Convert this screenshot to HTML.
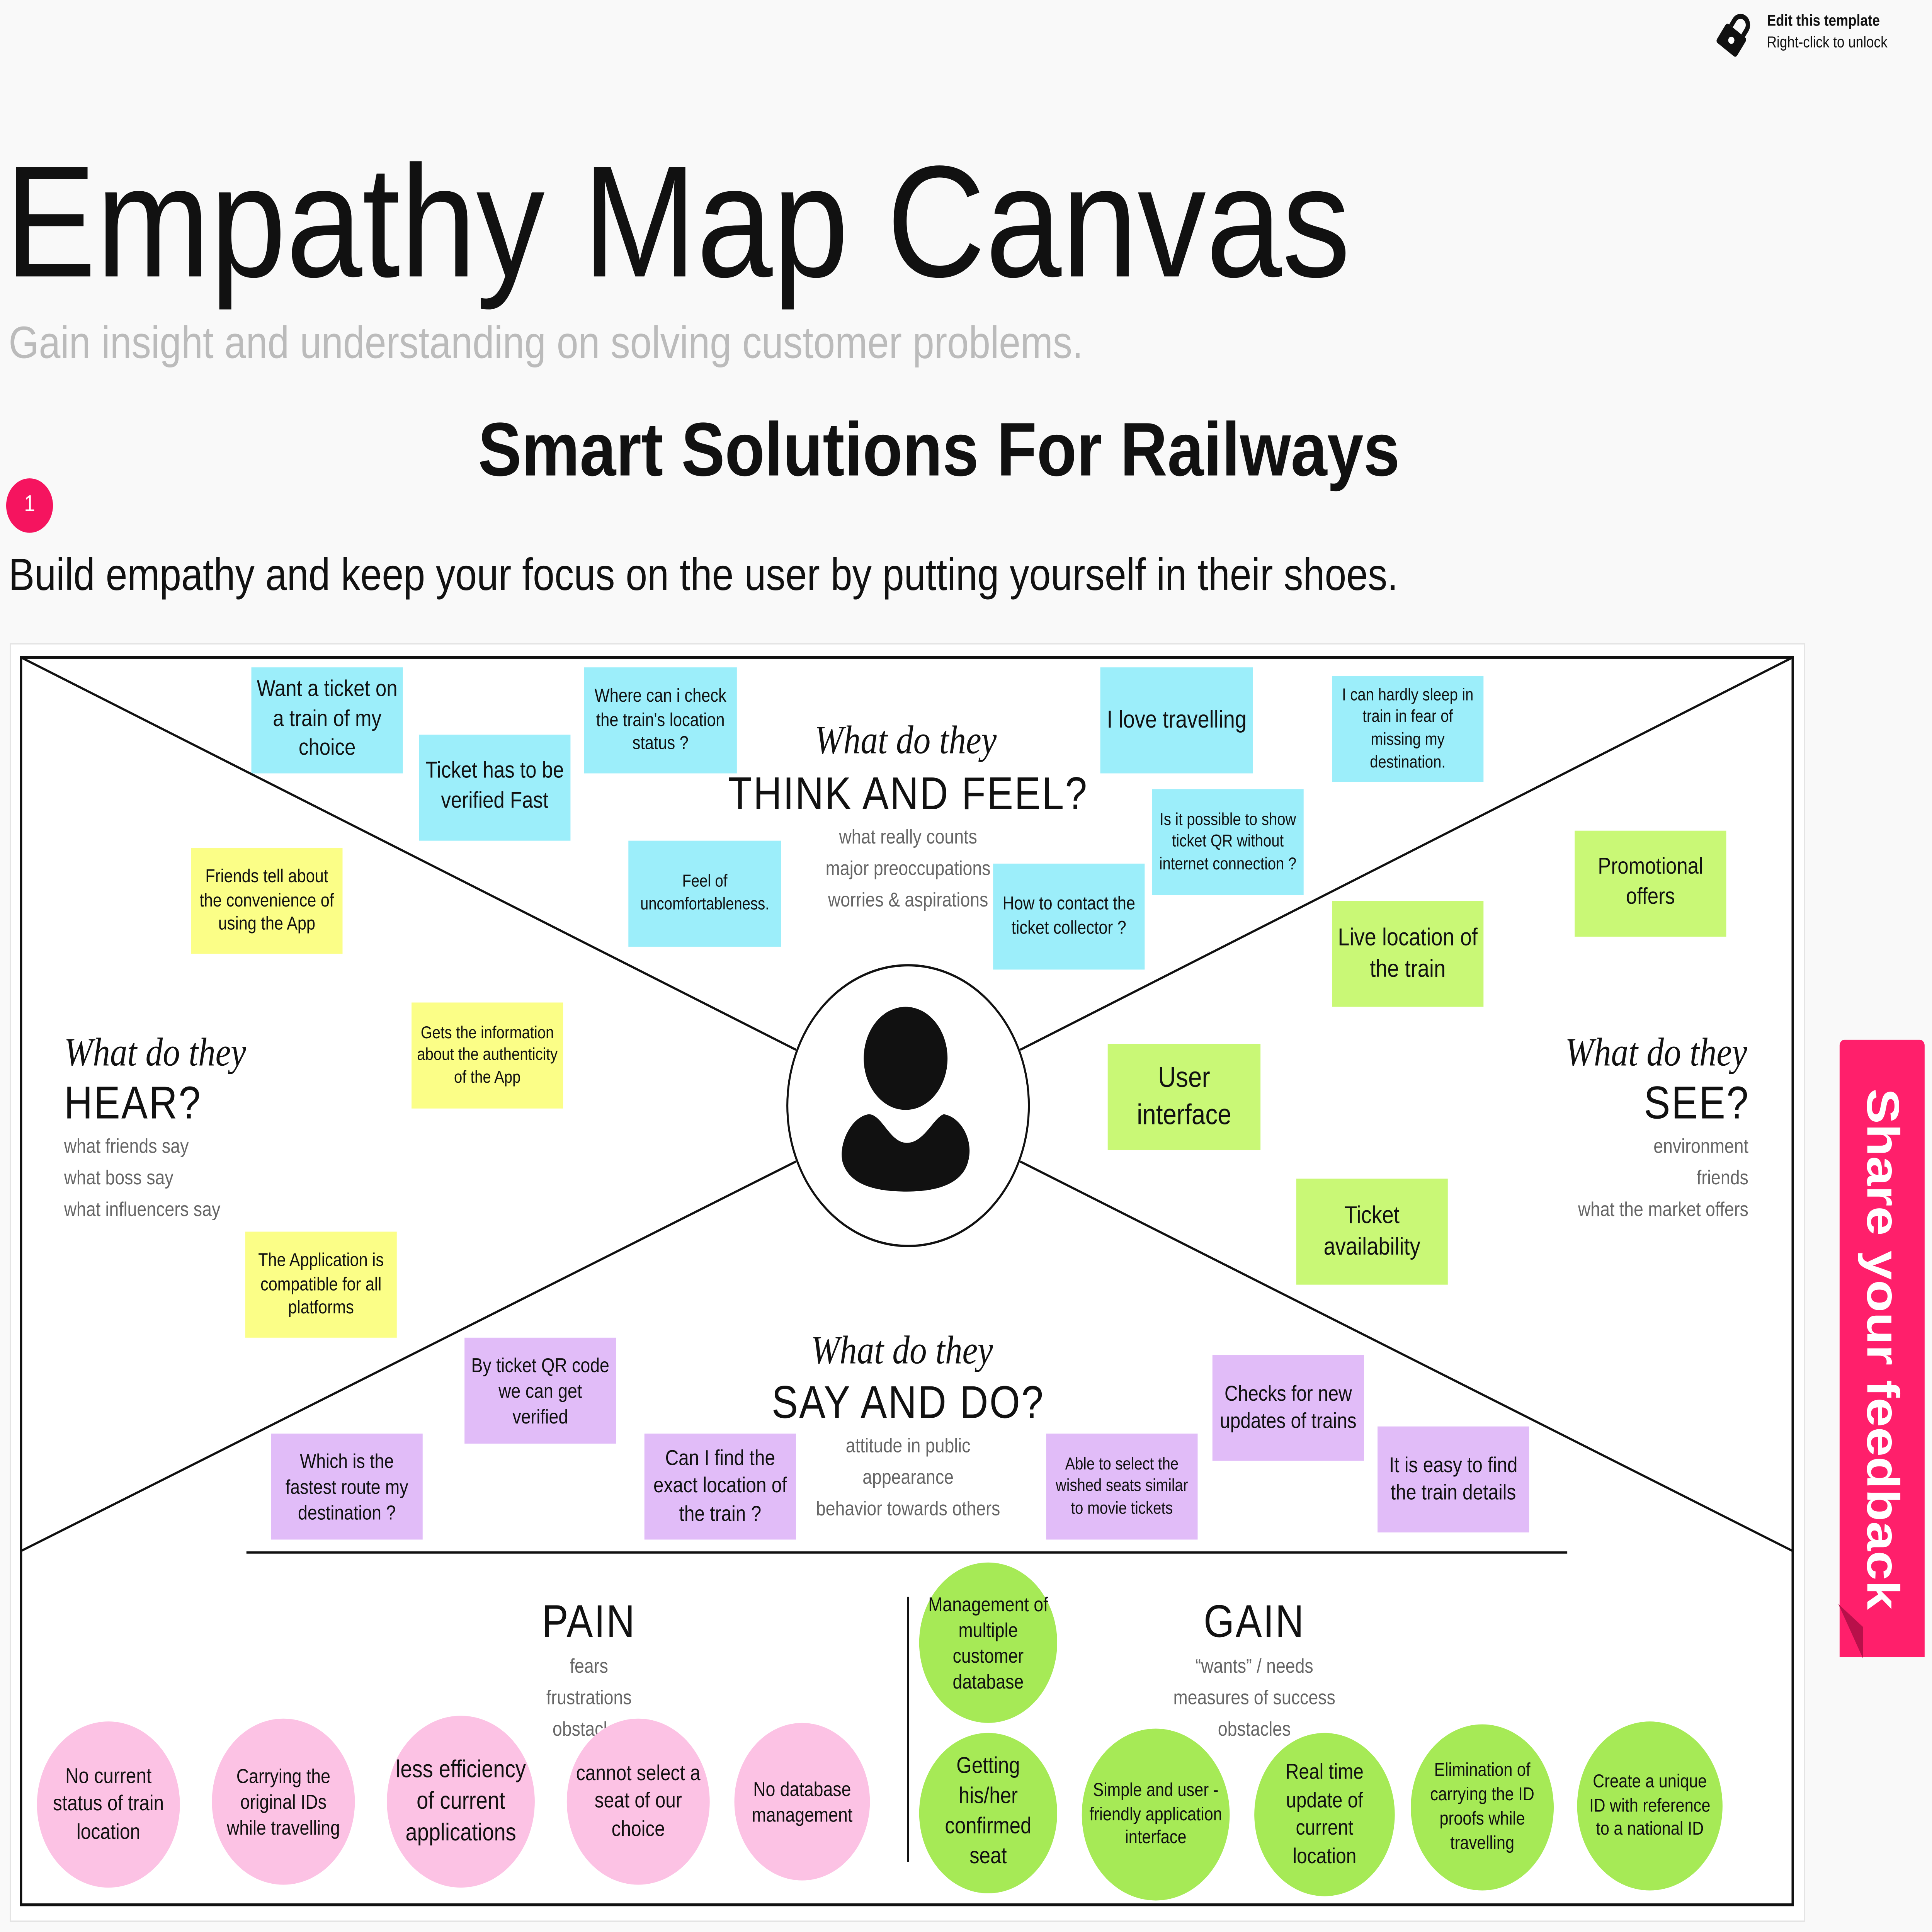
<!DOCTYPE html>
<html><head><meta charset="utf-8"><style>
html,body{margin:0;padding:0;width:100%;height:100%;overflow:hidden;background:#f9f9f9}
svg.root{display:block;width:100vw;height:100vh}
#c{position:relative;width:1568px;height:1349px;overflow:hidden;font-family:"Liberation Sans",sans-serif;color:#111}
.a{position:absolute}
.n{position:absolute;display:flex;align-items:center;justify-content:center;text-align:center;line-height:1.3;box-sizing:border-box;padding:2px 4px}
.b{background:#9ceefa}.y{background:#fbfe87}.g{background:#c9f876}.p{background:#e1bcf8}
.ci{position:absolute;border-radius:50%;display:flex;align-items:center;justify-content:center;text-align:center;line-height:1.3;box-sizing:border-box;padding:6px}
.pk{background:#fcc2e4}.gr{background:#a6ea56}
.sc{font-family:"Liberation Serif",serif;font-style:italic;font-size:28px}
.hd{font-size:32px;letter-spacing:1px}
.ds{color:#666;font-size:14px;line-height:22px}
</style></head><body>
<svg class="root" viewBox="0 0 1568 1349" preserveAspectRatio="none" xmlns="http://www.w3.org/2000/svg">
<rect x="0" y="0" width="1568" height="1349" fill="#f9f9f9"/>
<rect x="8.5" y="449.5" width="1456" height="892" fill="#fff" stroke="#e4e4e4"/>
<foreignObject x="0" y="0" width="1568" height="1349">
<div xmlns="http://www.w3.org/1999/xhtml" id="c">
<div class="a" style="left:1434px;top:9px;font-size:11px;font-weight:bold">Edit this template</div>
<div class="a" style="left:1434px;top:24px;font-size:11px">Right-click to unlock</div>
<div class="a" style="left:4px;top:93px;font-size:111px;line-height:124px;white-space:nowrap">Empathy Map Canvas</div>
<div class="a" style="left:7px;top:221px;font-size:31.5px;color:#bbb;white-space:nowrap">Gain insight and understanding on solving customer problems.</div>
<div class="a" style="left:0;width:1524px;top:284px;text-align:center;font-size:53px;font-weight:bold">Smart Solutions For Railways</div>
<div class="a" style="left:5px;top:334px;width:38px;height:38px;border-radius:50%;background:#f5145f;color:#fff;font-size:16px;text-align:center;line-height:38px">1</div>
<div class="a" style="left:7px;top:383px;font-size:31.5px;white-space:nowrap">Build empathy and keep your focus on the user by putting yourself in their shoes.</div>
<div class="a sc" style="left:0;width:1470px;top:502px;text-align:center">What do they</div>
<div class="a hd" style="left:0;width:1474px;top:536px;text-align:center">THINK AND FEEL?</div>
<div class="a ds" style="left:0;width:1474px;top:573px;text-align:center">what really counts<br/>major preoccupations<br/>worries &amp; aspirations</div>
<div class="a sc" style="left:52px;top:720px">What do they</div>
<div class="a hd" style="left:52px;top:752px">HEAR?</div>
<div class="a ds" style="left:52px;top:789px">what friends say<br/>what boss say<br/>what influencers say</div>
<div class="a sc" style="right:150px;top:720px;text-align:right">What do they</div>
<div class="a hd" style="right:148px;top:752px;text-align:right">SEE?</div>
<div class="a ds" style="right:149px;top:789px;text-align:right">environment<br/>friends<br/>what the market offers</div>
<div class="a sc" style="left:0;width:1464px;top:928px;text-align:center">What do they</div>
<div class="a hd" style="left:0;width:1474px;top:961px;text-align:center">SAY AND DO?</div>
<div class="a ds" style="left:0;width:1474px;top:998px;text-align:center">attitude in public<br/>appearance<br/>behavior towards others</div>
<div class="a hd" style="left:0;width:956px;top:1114px;text-align:center">PAIN</div>
<div class="a ds" style="left:0;width:956px;top:1152px;text-align:center">fears<br/>frustrations<br/>obstacles</div>
<div class="a hd" style="left:900px;width:236px;top:1114px;text-align:center">GAIN</div>
<div class="a ds" style="left:900px;width:236px;top:1152px;text-align:center">“wants” / needs<br/>measures of success<br/>obstacles</div>
<div class="n b" style="left:204px;top:466px;width:123px;height:74px;font-size:16px">Want a ticket on a train of my choice</div>
<div class="n b" style="left:340px;top:513px;width:123px;height:74px;font-size:16px">Ticket has to be verified Fast</div>
<div class="n b" style="left:474px;top:466px;width:124px;height:74px;font-size:13px">Where can i check the train's location status ?</div>
<div class="n b" style="left:510px;top:587px;width:124px;height:74px;font-size:12px">Feel of uncomfortableness.</div>
<div class="n b" style="left:893px;top:466px;width:124px;height:74px;font-size:17px">I love travelling</div>
<div class="n b" style="left:1081px;top:472px;width:123px;height:74px;font-size:12px">I can hardly sleep in train in fear of missing my destination.</div>
<div class="n b" style="left:935px;top:551px;width:123px;height:74px;font-size:12px">Is it possible to show ticket QR without internet connection ?</div>
<div class="n b" style="left:806px;top:603px;width:123px;height:74px;font-size:13px">How to contact the ticket collector ?</div>
<div class="n y" style="left:155px;top:592px;width:123px;height:74px;font-size:13px">Friends tell about the convenience of using the App</div>
<div class="n y" style="left:334px;top:700px;width:123px;height:74px;font-size:12px">Gets the information about the authenticity of the App</div>
<div class="n y" style="left:199px;top:860px;width:123px;height:74px;font-size:13px">The Application is compatible for all platforms</div>
<div class="n g" style="left:1278px;top:580px;width:123px;height:74px;font-size:16px">Promotional offers</div>
<div class="n g" style="left:1081px;top:629px;width:123px;height:74px;font-size:17px">Live location of the train</div>
<div class="n g" style="left:899px;top:729px;width:124px;height:74px;font-size:20px">User interface</div>
<div class="n g" style="left:1052px;top:823px;width:123px;height:74px;font-size:17px">Ticket availability</div>
<div class="n p" style="left:377px;top:934px;width:123px;height:74px;font-size:14px">By ticket QR code we can get verified</div>
<div class="n p" style="left:220px;top:1001px;width:123px;height:74px;font-size:14px">Which is the fastest route my destination ?</div>
<div class="n p" style="left:523px;top:1001px;width:123px;height:74px;font-size:15px">Can I find the exact location of the train ?</div>
<div class="n p" style="left:849px;top:1001px;width:123px;height:74px;font-size:12px">Able to select the wished seats similar to movie tickets</div>
<div class="n p" style="left:984px;top:946px;width:123px;height:74px;font-size:15px">Checks for new updates of trains</div>
<div class="n p" style="left:1118px;top:996px;width:123px;height:74px;font-size:15px">It is easy to find the train details</div>
<div class="ci pk" style="left:30px;top:1202px;width:116px;height:116px;font-size:15px">No current status of train location</div>
<div class="ci pk" style="left:172px;top:1200px;width:116px;height:116px;font-size:14px">Carrying the original IDs while travelling</div>
<div class="ci pk" style="left:314px;top:1198px;width:120px;height:120px;font-size:17px">less efficiency of current applications</div>
<div class="ci pk" style="left:460px;top:1200px;width:116px;height:116px;font-size:15px">cannot select a seat of our choice</div>
<div class="ci pk" style="left:596px;top:1203px;width:110px;height:110px;font-size:14px">No database management</div>
<div class="ci gr" style="left:746px;top:1091px;width:112px;height:112px;font-size:14px">Management of multiple customer database</div>
<div class="ci gr" style="left:746px;top:1210px;width:112px;height:112px;font-size:16px">Getting his/her confirmed seat</div>
<div class="ci gr" style="left:878px;top:1207px;width:120px;height:120px;font-size:13px">Simple and user - friendly application interface</div>
<div class="ci gr" style="left:1018px;top:1210px;width:114px;height:114px;font-size:15px">Real time update of current location</div>
<div class="ci gr" style="left:1145px;top:1204px;width:116px;height:116px;font-size:13px">Elimination of carrying the ID proofs while travelling</div>
<div class="ci gr" style="left:1280px;top:1202px;width:118px;height:118px;font-size:13px">Create a unique ID with reference to a national ID</div>
<div class="a" style="left:1493px;top:726px;width:69px;height:431px;background:#ff1f6b;border-radius:4px 4px 0 0;overflow:hidden;display:flex;align-items:center;justify-content:center">
<div style="writing-mode:vertical-rl;white-space:nowrap;color:#fff;font-weight:bold;font-size:37px">Share your feedback</div></div>
</div>
</foreignObject>
<polygon points="1492,1120 1512,1136 1512,1158" fill="#b8104a"/>
<g transform="translate(1390,6) rotate(35 18 18)"><rect x="8" y="15" width="20" height="16" rx="2" fill="#111"/><path d="M12 15 V10 a6 6 0 0 1 12 0 V15" stroke="#111" stroke-width="3.5" fill="none"/><circle cx="18" cy="23" r="2.5" fill="#fff"/></g>
<rect x="17" y="459" width="1438" height="871" fill="none" stroke="#111" stroke-width="2"/>
<line x1="17" y1="459" x2="646" y2="733" stroke="#111" stroke-width="1.6"/>
<line x1="1455" y1="459" x2="828" y2="733" stroke="#111" stroke-width="1.6"/>
<line x1="17" y1="1083" x2="646" y2="811" stroke="#111" stroke-width="1.6"/>
<line x1="1455" y1="1083" x2="828" y2="811" stroke="#111" stroke-width="1.6"/>
<line x1="200" y1="1084" x2="1272" y2="1084" stroke="#111" stroke-width="1.6"/>
<line x1="737" y1="1115" x2="737" y2="1300" stroke="#111" stroke-width="1.6"/>
<circle cx="737" cy="772" r="98" fill="#fff" stroke="#111" stroke-width="1.6"/>
<ellipse cx="735" cy="739" rx="34" ry="36" fill="#111"/>
<path d="M705 778 C690 780 680 800 684 812 C690 828 712 832 736 832 C762 832 782 826 786 810 C790 796 780 780 766 778 C758 780 750 798 736 798 C722 798 716 778 705 778Z" fill="#111"/>
</svg>
</body></html>
